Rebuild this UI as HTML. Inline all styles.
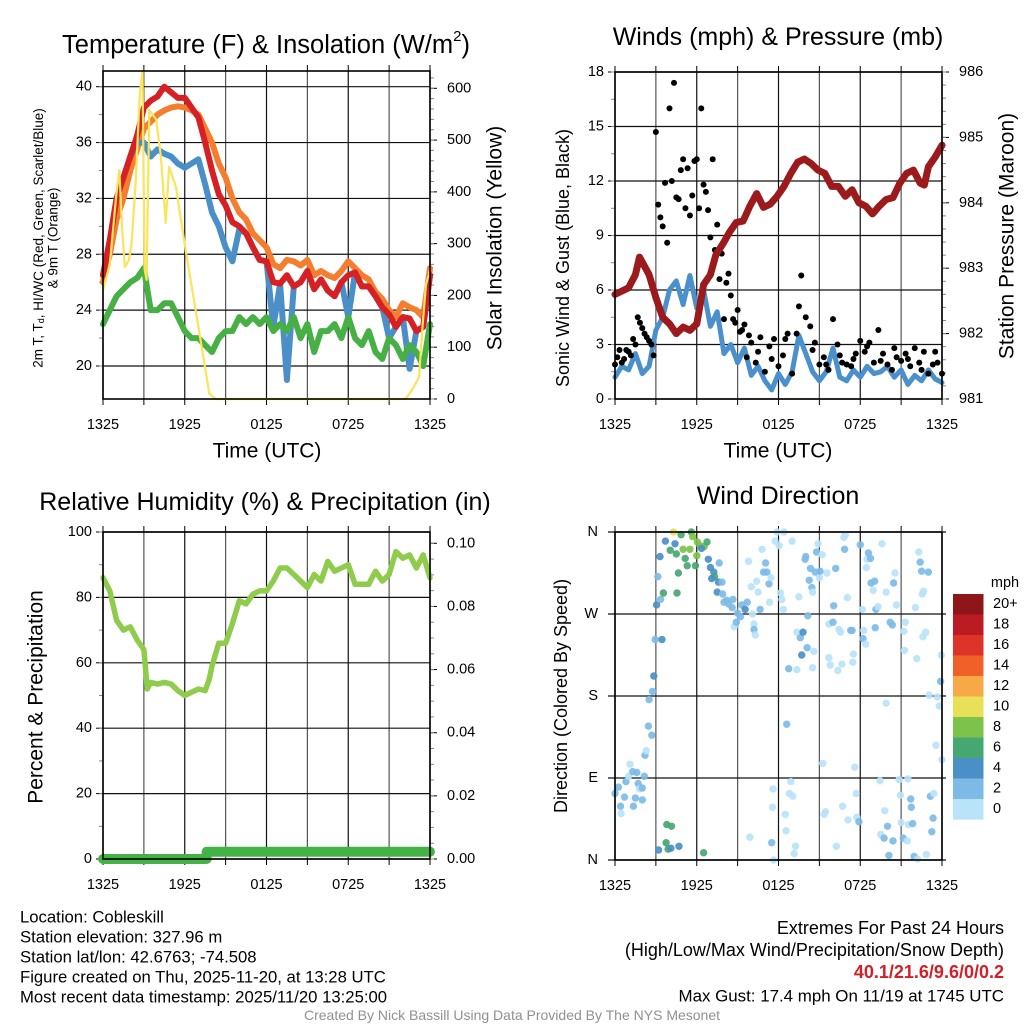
<!DOCTYPE html>
<html><head><meta charset="utf-8">
<style>
html,body{margin:0;padding:0;background:#fff;}
svg{display:block;font-family:"Liberation Sans",Arial,sans-serif;}
</style></head>
<body>
<svg id="chart" width="1024" height="1024" viewBox="0 0 1024 1024" xmlns="http://www.w3.org/2000/svg"></svg>
<script>
// ---------- data ----------
const hours30 = [0,0.5,1,1.5,2,2.5,3,3.5,4,4.5,5,5.5,6,6.5,7,7.5,8,8.5,9,9.5,10,10.5,11,11.5,12,12.5,13,13.5,14,14.5,15,15.5,16,16.5,17,17.5,18,18.5,19,19.5,20,20.5,21,21.5,22,22.5,23,23.5,24];
const timeTickLabels = ["1325","1925","0125","0725","1325"];
const tempRed = [26.5,29,32,33.5,35,36.5,38.5,39,39.3,40,39.6,39.2,39.2,38.5,37.8,36,34,32.3,31.5,30.3,30,29.5,28.5,27.6,27.5,26,25.9,26.5,25.7,26,26.8,25.5,26.2,25.4,25,26,26.5,26.7,25.7,25.7,25,24.2,23.7,22.8,23.5,23.4,22.5,22.8,26.5];
const tempOrange = [26,28,30.5,32,34,35.5,37,37.5,38,38.3,38.5,38.6,38.5,38.3,38,37,36,34.5,33.5,32,31,30.5,29.5,29,28.5,27.3,27,27.6,27.5,27.2,27.6,26.5,26.8,26.5,26.3,26.8,27.5,27,26.5,26.2,25.3,24.8,24,23.5,24.5,24.2,24,23.5,27];
const tempHiWc = [26.5,29,32,33.5,35,36,36,35,35.5,35.2,35,34.5,34.2,34.5,34.8,33,31,30,28.5,27.5,29.8,29.5,28.5,27.6,27.5,22.8,25.9,19,25.7,26,26.8,25.5,26.2,25.4,25,26,23.5,26.7,25.7,25.7,25,24.2,22,22.8,23.5,19.8,22.5,22.8,26.5];
const dewpoint = [23,24,25,25.5,26,26.3,27,24,24,24.5,24.5,23.5,22.5,22,22,21.5,21,22,22.5,22.5,23.5,23,23.5,23,23.5,22.5,23,22.5,23.5,22,23,21,22.5,22.5,23,22,23.5,22,21.5,22.5,21,20.5,22,21.5,20.5,21.5,21,20,23];
const solarT = [0,0.5,1.0,1.2,1.4,1.6,1.9,2.1,2.4,2.7,2.9,3.05,3.2,3.4,3.9,4.25,4.6,4.85,5.35,6.1,6.8,7.6,7.8,8.3,22.2,22.7,23.2,23.45,23.7,24];
const solarV = [210,260,400,442,330,255,268,300,420,590,633,250,230,558,540,468,340,448,410,282,172,43,10,0,0,18,43,140,220,250];
const tempTicks = [20,24,28,32,36,40];
const solarTicks = [0,100,200,300,400,500,600];

const windSpeed = [1.2,1.8,1.6,2.5,1.4,1.8,3.8,4.5,6.0,6.5,5.2,6.8,5.0,6.0,4.0,4.8,2.5,3.0,2.0,2.8,1.3,1.8,1.0,0.5,1.4,0.8,1.5,3.5,2.5,1.5,1.0,1.5,2.8,1.2,1.0,1.6,1.2,1.8,1.4,1.5,1.8,1.2,1.6,0.8,1.3,1.0,1.6,1.1,0.9];
const gustT = [0,0.33,0.67,1,1.33,1.67,2,2.33,2.67,3,3.33,3.67,4,4.33,4.67,5,5.33,5.67,6,6.33,6.67,7,7.33,7.67,8,8.33,8.67,9,9.33,9.67,10,10.33,10.67,11,11.33,11.67,12,12.33,12.67,13,13.33,13.67,14,14.33,14.67,15,15.33,15.67,16,16.33,16.67,17,17.33,17.67,18,18.33,18.67,19,19.33,19.67,20,20.33,20.67,21,21.33,21.67,22,22.33,22.67,23,23.33,23.67,24];
const gustV = [1.9,2.7,2.2,2.6,3.3,4.5,3.9,3.4,3.0,14.7,10.0,11.9,16.0,17.4,11.0,13.2,12.7,11.2,13.2,16.0,11.4,8.9,8.2,6.6,4.4,6.9,4.4,4.9,3.8,2.3,3.1,2.0,3.4,1.5,2.9,3.3,1.8,2.4,3.6,1.4,3.6,6.8,4.5,4.0,3.1,1.9,2.3,1.6,4.4,3.0,2.0,1.9,1.8,2.5,3.2,2.6,3.1,2.0,3.8,2.5,1.9,1.6,2.3,2.1,2.5,1.8,2.8,2.0,2.6,1.4,1.9,2.0,1.4];
const gustT2 = [0.17,0.5,0.83,1.17,1.5,1.83,2.17,2.5,2.83,3.17,3.5,3.83,4.17,4.5,4.83,5.17,5.5,5.83,6.17,6.5,6.83,7.17,7.5,7.83,8.17,8.5,8.83,9.17,9.5,9.83,10.5,11.5,12.5,13.5,14.5,15.5,16.5,17.5,18.5,19.5,20.5,21.5,22.5,23.5];
const gustV2 = [2.3,2.0,2.7,2.4,3.0,4.2,3.6,3.2,2.4,10.7,9.5,8.6,12.0,11.1,12.6,10.5,10.1,13.1,10.5,11.8,10.4,13.2,9.6,8.0,6.4,5.7,4.2,3.7,4.1,3.5,2.6,2.2,3.3,5.1,2.7,1.9,2.4,2.2,2.9,2.1,2.8,2.2,1.6,2.6];
const presT = [0,0.5,1.0,1.5,1.8,2.5,3.0,3.5,4.0,4.5,5.0,5.5,6.0,6.5,7.0,7.4,8.0,8.4,8.9,9.4,9.9,10.4,10.9,11.4,11.9,12.4,12.9,13.4,13.9,14.4,14.9,15.4,15.9,16.4,16.9,17.4,17.9,18.4,18.9,19.4,19.9,20.4,20.9,21.4,21.9,22.4,22.7,23.0,23.5,24];
const presV = [982.6,982.65,982.7,982.9,983.17,982.9,982.55,982.25,982.15,982.0,982.1,982.05,982.15,982.75,982.9,983.2,983.4,983.55,983.7,983.72,983.95,984.14,983.93,983.98,984.1,984.25,984.45,984.62,984.67,984.6,984.5,984.45,984.25,984.25,984.1,984.2,984.0,983.95,983.83,983.95,984.05,984.08,984.3,984.45,984.5,984.3,984.27,984.55,984.7,984.88];
const windTicks = [0,3,6,9,12,15,18];
const presTicks = [981,982,983,984,985,986];

const rhT = [0,0.5,1,1.5,2,2.5,3,3.25,3.5,4,4.5,5,5.5,6,6.5,7,7.5,7.8,8,8.5,9,9.5,10,10.5,11,11.5,12,12.5,13,13.5,14,14.5,15,15.5,16,16.5,17,17.5,18,18.5,19,19.5,20,20.5,21,21.5,22,22.5,23,23.5,24];
const rhV = [86,82,73,70,71,67,64,52,54,53.5,54,53.5,51.5,50,51,52,51.5,55,59,66,66,72,79,78,81,82,82,85,89,89,87,85,83,87,85,91,88,89,90,84,84,84,88,85,87,94,92,93,89,93,86];
const precipT = [0,7.6,7.6,24];
const precipV = [0,0,0.0023,0.0023];
const rhTicks = [0,20,40,60,80,100];
const precipTicks = [0,0.02,0.04,0.06,0.08,0.10];

const dirTime = [0.0,0.25,0.4,0.45,0.7,0.8,1.0,1.1,1.3,1.35,1.5,1.6,1.7,1.8,2.0,2.0,2.15,2.2,2.3,2.45,2.7,2.5,2.75,2.85,2.95,3.45,3.05,3.35,3.55,3.15,3.3,3.7,4.05,4.3,4.4,4.5,4.85,4.65,4.55,5.0,5.15,5.3,5.5,5.6,5.7,5.9,6.0,6.05,6.25,6.55,6.75,6.35,6.85,7.0,7.25,7.3,7.6,7.65,7.1,7.5,7.85,7.9,8.0,8.2,8.35,8.6,8.65,8.75,8.9,9.0,9.2,9.3,9.55,9.7,9.8,10.0,10.1,10.2,10.2,10.3,10.4,10.5,10.65,10.8,10.9,11.05,11.15,11.3,11.35,11.45,11.65,11.75,11.9,12.05,12.15,12.25,12.35,12.4,12.75,12.6,13.0,13.35,13.5,13.35,13.6,13.7,13.8,13.95,14.0,14.1,14.15,14.25,14.35,14.45,14.5,14.6,14.5,14.7,14.8,14.9,15.0,15.05,15.2,15.25,15.45,15.35,15.55,15.7,15.8,15.7,16.0,16.05,16.2,16.35,16.45,16.55,16.65,16.7,16.8,16.9,16.85,17.05,17.1,17.3,17.4,17.45,17.5,17.6,17.7,17.75,17.9,18.0,18.15,18.2,18.25,18.4,18.45,18.5,18.6,18.75,18.8,18.95,19.05,19.1,19.15,19.3,19.45,19.5,19.6,19.75,19.8,19.9,19.9,20.0,20.1,20.2,20.35,20.4,20.45,20.55,20.65,20.85,20.95,21.0,21.15,21.2,21.25,21.3,21.45,21.5,21.55,21.7,21.75,21.85,21.95,22.05,22.15,22.2,22.3,22.4,22.5,22.55,22.65,22.6,22.8,22.85,23.0,23.05,23.15,23.25,23.35,23.4,23.55,23.65,23.8,23.9,23.95,24.0,3.2,3.75,3.9,4.1,4.7,3.8,4.15,6.5,11.5,11.6,11.55,9.9,12.5,12.55,12.8,13.05,12.9,13.25,13.15,16.25];
const dirDeg = [73,80,59,51,69,86,92,105,97,59,68,96,84,78,66,79,92,115,120,147,137,176,185,202,242,242,280,286,293,311,333,350,340,360,347,336,357,315,293,341,331,323,341,360,355,323,334,349,345,344,349,342,330,321,316,311,305,326,309,294,305,292,283,285,281,277,286,256,261,271,267,280,275,283,328,300,270,259,253,247,306,294,275,341,316,326,316,303,283,310,0,350,360,345,293,286,275,360,210,149,350,209,289,250,244,225,250,330,333,233,268,307,320,299,294,229,211,316,338,347,310,317,335,106,53,50,315,222,214,259,261,279,320,208,253,250,215,59,354,357,341,288,44,252,252,217,226,102,73,47,42,346,275,243,252,237,321,330,337,331,304,296,306,255,275,278,87,28,347,24,54,294,172,37,5,261,258,21,304,315,280,88,71,41,24,251,230,261,21,89,39,67,58,40,4,277,221,1,338,327,317,292,295,245,250,6,316,181,70,31,46,73,126,179,169,196,225,110,11,19,12,13,15,39,37,8,19,78,58,25,50,32,73,70,86,15,7,15];
const dirSpeed = [3,3,3,1,3,3,1,1,3,3,3,3,3,1,3,3,3,3,1,3,3,3,3,5,3,5,5,3,7,3,5,5,7,10.5,5,7,7,7,7,9,7,7,9,7,9,7,9,9,9,9,7,5,5,5,5,7,5,3,5,5,3,3,3,3,3,3,3,1,3,3,3,3,5,3,1,1,1,1,3,1,1,1,3,1,3,3,3,3,1,1,1,1,1,1,1,1,1,1,3,3,1,1,1,1,3,5,5,3,3,3,3,3,3,3,1,1,1,3,3,1,1,3,1,1,1,1,1,1,1,1,3,3,3,1,1,1,1,1,1,1,3,1,1,3,3,1,1,1,1,1,3,3,1,3,1,1,1,1,3,3,3,1,3,3,3,1,1,1,1,3,1,1,1,3,3,3,3,3,3,1,1,1,1,1,3,1,1,1,1,1,1,3,3,3,3,1,1,1,1,3,3,1,1,1,1,1,3,1,3,3,3,1,1,1,1,3,1,1,5,7,7,5,5,7,7,7,3,1,1,1,1,1,1,1,1,1,1,1];
const dirTickLabels = ["N","E","S","W","N"];
const speedBinLabels = ["20+","18","16","14","12","10","8","6","4","2","0"];
const speedBinColors = ["#8e1518","#bb1c24","#dd3329","#f06129","#f8a847","#e8e058","#7dc24b","#46a770","#4a8fc6","#7dbbe6","#b9e3f8"];

// ---------- helpers ----------
const NS = "http://www.w3.org/2000/svg";
const svg = document.getElementById("chart");
function mk(tag, attrs, parent) {
  const e = document.createElementNS(NS, tag);
  for (const k in attrs) e.setAttribute(k, attrs[k]);
  (parent || svg).appendChild(e);
  return e;
}
function txt(s, x, y, size, anchor, name, extra) {
  const e = mk("text", Object.assign({x: x, y: y, "font-size": size, "text-anchor": anchor || "middle", "dominant-baseline": "central", fill: "#000"}, extra || {}));
  e.textContent = s;
  
  
  return e;
}
function linScale(d0, d1, r0, r1) { return v => r0 + (v - d0) / (d1 - d0) * (r1 - r0); }

function drawFrame(p, name) {
  const g = mk("g", {});
  
  
  for (let h = 0; h <= 24; h += 3) {
    const x = p.x(h);
    const gl = mk("line", {x1: x, x2: x, y1: p.top, y2: p.bot, stroke: (h % 6 === 0) ? "#111" : "#555", "stroke-width": 1.2}, g);
    
    
    mk("line", {x1: x, x2: x, y1: p.bot, y2: p.bot + 6, stroke: "#000", "stroke-width": 1}, g);
    mk("line", {x1: x, x2: x, y1: p.top, y2: p.top - 6, stroke: "#000", "stroke-width": 1}, g);
  }
  for (let i = 0; i < timeTickLabels.length; i++) {
    txt(timeTickLabels[i], p.x(i * 6), p.bot + 26, 14.5, "middle", 'x-tick-label');
  }
  return g;
}
function drawLeftAxis(p, ticks, ys, minorStep, labelFn, gridOn) {
  for (const t of ticks) {
    const y = ys(t);
    if (gridOn) mk("line", {x1: p.l, x2: p.r, y1: y, y2: y, stroke: "#111", "stroke-width": 1.2});
    mk("line", {x1: p.l - 7, x2: p.l, y1: y, y2: y, stroke: "#000", "stroke-width": 1});
    txt(labelFn(t), p.l - 11, y, 14.5, "end", 'y-tick-label');
  }
  if (minorStep) {
    for (let v = ticks[0]; v <= ticks[ticks.length - 1] + 1e-9; v += minorStep) {
      const y = ys(v);
      mk("line", {x1: p.l - 4, x2: p.l, y1: y, y2: y, stroke: "#888", "stroke-width": 1});
    }
  }
}
function drawRightAxis(p, ticks, ys, minorStep, labelFn, lo, hi) {
  for (const t of ticks) {
    const y = ys(t);
    mk("line", {x1: p.r, x2: p.r + 7, y1: y, y2: y, stroke: "#000", "stroke-width": 1});
    txt(labelFn(t), p.r + 17, y, 14.5, "start", 'y2-tick-label');
  }
  if (minorStep) {
    for (let v = lo; v <= hi + 1e-9; v += minorStep) {
      const y = ys(v);
      if (y < p.top - 0.5) continue;
      mk("line", {x1: p.r, x2: p.r + 4, y1: y, y2: y, stroke: "#888", "stroke-width": 1});
    }
  }
}
function box(p) {
  mk("rect", {x: p.l, y: p.top, width: p.r - p.l, height: p.bot - p.top, fill: "none", stroke: "#000", "stroke-width": 1.6});
}
function path(xs, ys, xsF, ysF, stroke, w, name) {
  let d = "";
  for (let i = 0; i < xs.length; i++) d += (i ? "L" : "M") + xsF(xs[i]).toFixed(1) + "," + ysF(ys[i]).toFixed(1);
  const e = mk("path", {d: d, fill: "none", stroke: stroke, "stroke-width": w, "stroke-linejoin": "round", "stroke-linecap": "round"});
  
  
  return e;
}

// ---------- Panel 1: temperature ----------
const p1 = {l: 103, r: 430, top: 71, bot: 399};
p1.x = linScale(0, 24, p1.l, p1.r);
const yTemp = linScale(20, 40, 366, 86.7);
const ySolar = linScale(0, 600, 399, 88.3);
drawFrame(p1, 'temperature');
drawLeftAxis(p1, tempTicks, yTemp, 2, t => String(t), true);
drawRightAxis(p1, solarTicks, ySolar, 20, t => String(t), 0, 620);
path(hours30, tempOrange, p1.x, yTemp, "#f47e2e", 6, 'line-9m-temp');
path(hours30, tempHiWc, p1.x, yTemp, "#4a8fc8", 6, 'line-heat-index-wind-chill');
path(hours30, tempRed, p1.x, yTemp, "#d62024", 6, 'line-2m-temp');
path(hours30, dewpoint, p1.x, yTemp, "#46b045", 6, 'line-dewpoint');
path(solarT, solarV, p1.x, ySolar, "#fbe35a", 2.2, 'line-solar-insolation');
box(p1);
txt("", 266, 45, 25.5, "middle", 'temperature-chart-title').innerHTML = 'Temperature (F) &amp; Insolation (W/m<tspan dy="-9" font-size="15">2</tspan><tspan dy="9">)</tspan>';
txt("Time (UTC)", 267, 451, 21, "middle", 'temperature-x-axis-title');
{
  const t = txt("", 0, 0, 13.5, "middle", 'temperature-y-axis-title', {transform: "translate(38,238) rotate(-90)"});
  t.innerHTML = '2m T, T<tspan dy="3" font-size="9">d</tspan><tspan dy="-3">, HI/WC (Red, Green, Scarlet/Blue)</tspan>';
  txt("& 9m T (Orange)", 0, 0, 13.5, "middle", 'temperature-y-axis-title-line2', {transform: "translate(53,238) rotate(-90)"});
}
txt("Solar Insolation (Yellow)", 0, 0, 21, "middle", 'solar-y-axis-title', {transform: "translate(495,238) rotate(-90)"});

// ---------- Panel 2: winds ----------
const p2 = {l: 615, r: 942, top: 72, bot: 399};
p2.x = linScale(0, 24, p2.l, p2.r);
const yWind = linScale(0, 18, 399, 72);
const yPres = linScale(981, 986, 399, 72);
drawFrame(p2, 'winds');
drawLeftAxis(p2, windTicks, yWind, 1.5, t => String(t), true);
drawRightAxis(p2, presTicks, yPres, 0.2, t => String(t), 981, 986);
path(hours30, windSpeed, p2.x, yWind, "#4a90cc", 5, 'line-sonic-wind');
for (let i = 0; i < gustT.length; i++) {
  const c = mk("circle", {cx: p2.x(gustT[i]), cy: yWind(gustV[i]), r: 3, fill: "#000"});
  
  
}
for (let i = 0; i < gustT2.length; i++) {
  const c = mk("circle", {cx: p2.x(gustT2[i]), cy: yWind(gustV2[i]), r: 3, fill: "#000"});
  
  
}
path(presT, presV, p2.x, yPres, "#9b1a1c", 7, 'line-station-pressure');
box(p2);
txt("Winds (mph) & Pressure (mb)", 778, 37, 25, "middle", 'winds-chart-title');
txt("Time (UTC)", 778, 451, 21, "middle", 'winds-x-axis-title');
txt("Sonic Wind & Gust (Blue, Black)", 0, 0, 18, "middle", 'winds-y-axis-title', {transform: "translate(563,258) rotate(-90)"});
txt("Station Pressure (Maroon)", 0, 0, 21, "middle", 'pressure-y-axis-title', {transform: "translate(1007,236) rotate(-90)"});

// ---------- Panel 3: RH ----------
const p3 = {l: 103, r: 430, top: 532, bot: 859};
p3.x = linScale(0, 24, p3.l, p3.r);
const yRh = linScale(0, 100, 859, 532);
const yPr = linScale(0, 0.10, 859, 543.3);
drawFrame(p3, 'humidity');
drawLeftAxis(p3, rhTicks, yRh, 10, t => String(t), true);
drawRightAxis(p3, precipTicks, yPr, 0.005, t => t.toFixed(2), 0, 0.105);
path(rhT, rhV, p3.x, yRh, "#8fcc4c", 5.5, 'line-relative-humidity');
path(precipT, precipV, p3.x, yPr, "#44b347", 10, 'line-precipitation');
box(p3);
txt("Relative Humidity (%) & Precipitation (in)", 265, 502, 25, "middle", 'humidity-chart-title');
txt("Percent & Precipitation", 0, 0, 21, "middle", 'humidity-y-axis-title', {transform: "translate(36,697) rotate(-90)"});

// ---------- Panel 4: wind direction ----------
const p4 = {l: 615, r: 942, top: 532, bot: 860};
p4.x = linScale(0, 24, p4.l, p4.r);
const yDir = linScale(0, 360, 860, 532);
drawFrame(p4, 'wind-direction');
for (let i = 0; i < dirTickLabels.length; i++) {
  const y = yDir(i * 90);
  mk("line", {x1: p4.l - 7, x2: p4.r + 4, y1: y, y2: y, stroke: "#111", "stroke-width": 1.2});
  txt(dirTickLabels[i], p4.l - 17, y, 14.5, "end", 'direction-tick-label');
}
function binColor(s) {
  const idx = Math.min(10, Math.floor(s / 2));
  return speedBinColors[10 - idx];
}
for (let i = 0; i < dirTime.length; i++) {
  const c = mk("circle", {cx: p4.x(dirTime[i]).toFixed(1), cy: yDir(dirDeg[i]).toFixed(1), r: 3.7, fill: binColor(dirSpeed[i]), "fill-opacity": 0.92});
  
  
}
box(p4);
txt("Wind Direction", 778, 496, 25, "middle", 'wind-direction-chart-title');
txt("Direction (Colored By Speed)", 0, 0, 18, "middle", 'direction-y-axis-title', {transform: "translate(561,696) rotate(-90)"});
txt("mph", 1005, 583, 14.5, "middle", 'colorbar-title');
for (let i = 0; i < speedBinLabels.length; i++) {
  const r = mk("rect", {x: 953, y: 594 + i * 20.5, width: 30.5, height: 20.6, fill: speedBinColors[i]});
  
  
  txt(speedBinLabels[i], 993, 604 + i * 20.5, 14.5, "start", 'colorbar-label');
}

// ---------- footer text ----------
const info = ["Location: Cobleskill","Station elevation: 327.96 m","Station lat/lon: 42.6763; -74.508","Figure created on Thu, 2025-11-20, at 13:28 UTC","Most recent data timestamp: 2025/11/20 13:25:00"];
for (let i = 0; i < info.length; i++) txt(info[i], 20, 917 + i * 20, 16.7, "start", 'station-info-line');
txt("Extremes For Past 24 Hours", 1004, 928, 18, "end", 'extremes-title');
txt("(High/Low/Max Wind/Precipitation/Snow Depth)", 1004, 950, 18, "end", 'extremes-subtitle');
txt("40.1/21.6/9.6/0/0.2", 1004, 972, 18, "end", 'extremes-values', {fill: "#d02028", "font-weight": "bold"});
txt("Max Gust: 17.4 mph On 11/19 at 1745 UTC", 1004, 996, 16.9, "end", 'max-gust-text');
txt("Created By Nick Bassill Using Data Provided By The NYS Mesonet", 512, 1015, 14, "middle", 'credit-text', {fill: "#909090"});
</script>
</body></html>
